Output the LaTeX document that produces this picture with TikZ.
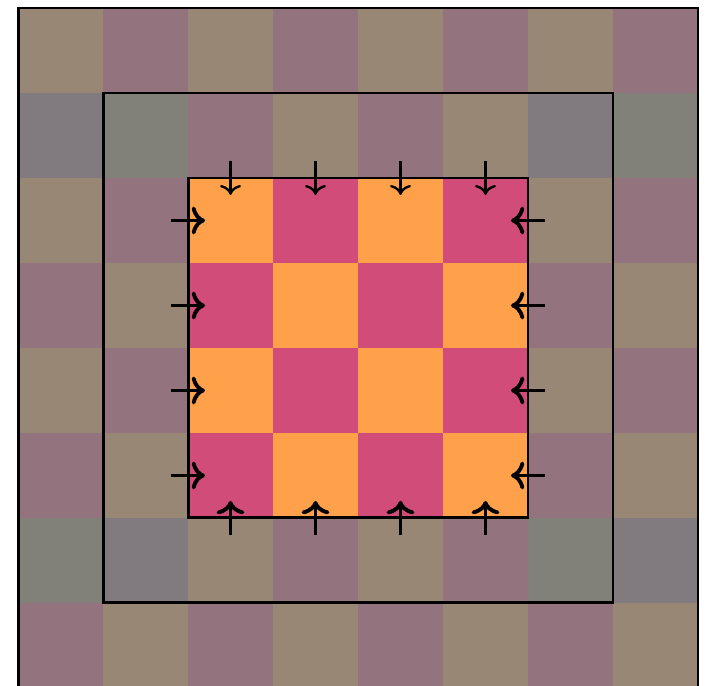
\documentclass[tikz,border=0pt]{standalone}
\usepackage{tikz}
\usetikzlibrary{arrows.meta}
\usetikzlibrary{positioning}

\definecolor{tanc}{RGB}{151,135,116}
\definecolor{mauvec}{RGB}{147,116,126}
\definecolor{greygreen}{RGB}{129,128,121}
\definecolor{greypurple}{RGB}{129,122,126}
\definecolor{orangec}{RGB}{255,161,74}
\definecolor{pinkc}{RGB}{210,76,122}

\begin{document}
\begin{tikzpicture}[
  cell/.style={rectangle, minimum size=1.01cm, inner sep=0pt, outer sep=0pt},
  frame/.style={draw=black, line width=1pt},
  thinarrow/.style={->, line width=0.8pt},
  thickarrow/.style={->, line width=1.3pt},
]
\useasboundingbox (-0.212,0.094) rectangle (8.153,-7.976);
\clip (-0.212,0.094) rectangle (8.153,-7.976);

% outer board
\foreach \r in {0,...,7}{
  \foreach \c in {0,...,7}{
    \pgfmathtruncatemacro\k{mod(\r+\c,2)}
    \ifnum\k=0 \def\col{tanc}\else\def\col{mauvec}\fi
    \node[cell, fill=\col] (s-\r-\c) at (\c+0.5,-\r-0.5) {};
  }
}
% grey cells
\foreach \r in {1,6}{
  \foreach \c in {0,1,6,7}{
    \pgfmathtruncatemacro\k{mod(\r+\c,2)}
    \ifnum\k=0 \def\col{greygreen}\else\def\col{greypurple}\fi
    \node[cell, fill=\col] (g-\r-\c) at (\c+0.5,-\r-0.5) {};
  }
}
% centre block
\foreach \r in {2,...,5}{
  \foreach \c in {2,...,5}{
    \pgfmathtruncatemacro\k{mod(\r+\c,2)}
    \ifnum\k=0 \def\col{orangec}\else\def\col{pinkc}\fi
    \node[cell, fill=\col] (m-\r-\c) at (\c+0.5,-\r-0.5) {};
  }
}

\draw[frame] (0,0) rectangle (8,-8);
\draw[frame] (1,-1) rectangle (7,-7);
\draw[frame] (2,-2) rectangle (6,-6);

% arrows
\foreach \i in {0,...,3}{
  \coordinate (top\i) at (2.5+\i,-1.8);
  \coordinate (topin\i) at (2.5+\i,-2.2);
  \coordinate (bot\i) at (2.5+\i,-6.2);
  \coordinate (botin\i) at (2.5+\i,-5.8);
  \coordinate (lft\i) at (1.8,-2.5-\i);
  \coordinate (lftin\i) at (2.2,-2.5-\i);
  \coordinate (rgt\i) at (6.2,-2.5-\i);
  \coordinate (rgtin\i) at (5.8,-2.5-\i);
  \draw[thinarrow] (top\i) -- (topin\i);
  \draw[thickarrow] (bot\i) -- (botin\i);
  \draw[thickarrow] (lft\i) -- (lftin\i);
  \draw[thickarrow] (rgt\i) -- (rgtin\i);
}
\end{tikzpicture}
\end{document}
